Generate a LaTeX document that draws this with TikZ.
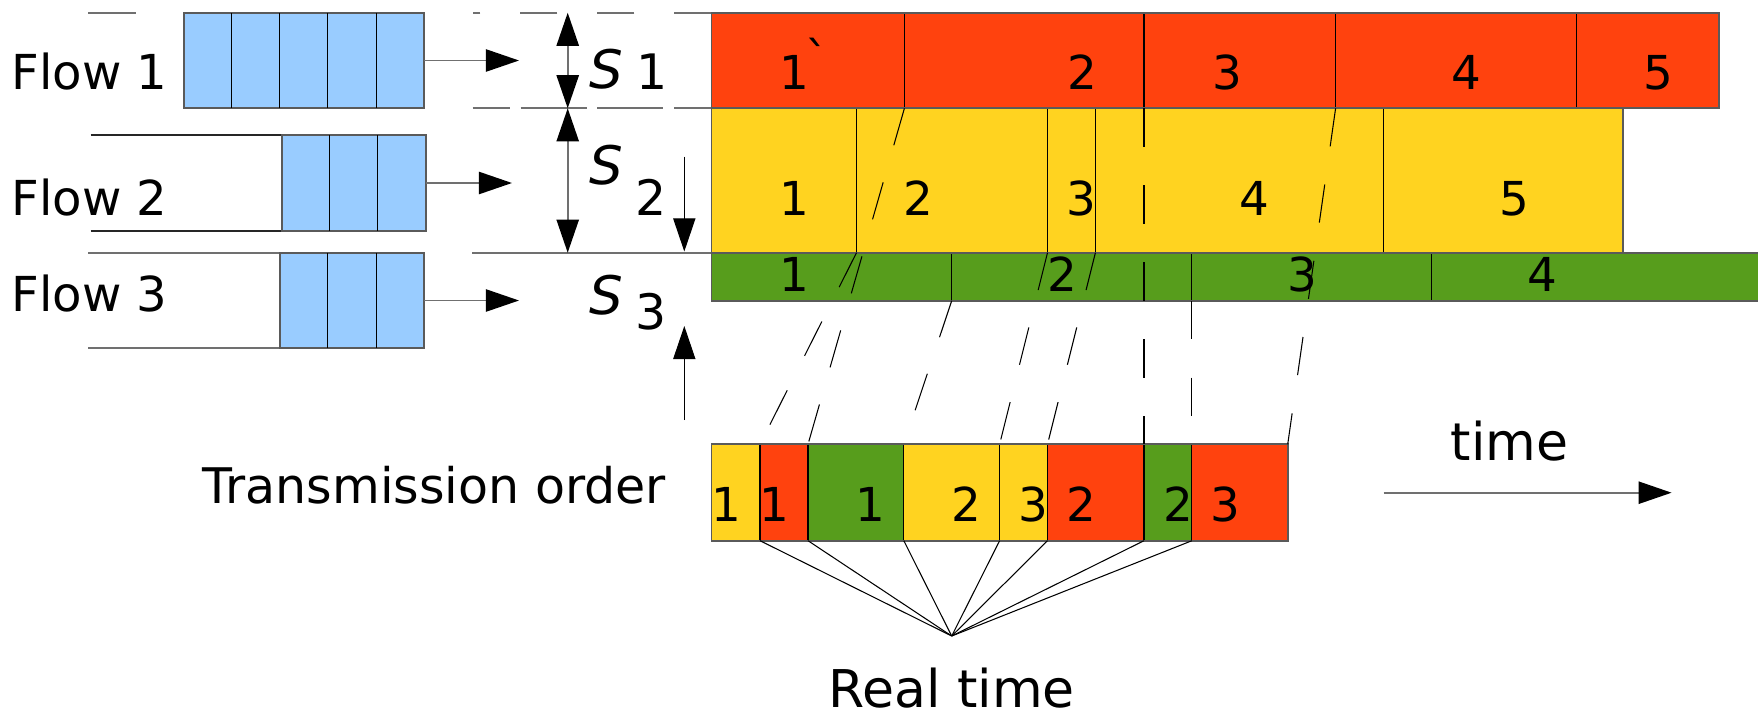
\documentclass[tikz,border=0pt]{standalone}
\usepackage{fontspec}
\setmainfont{DejaVu Sans}
\usetikzlibrary{arrows.meta}
\definecolor{pktred}{HTML}{FF420E}
\definecolor{pktyellow}{HTML}{FFD320}
\definecolor{pktgreen}{HTML}{579D1C}
\definecolor{qblue}{HTML}{99CCFF}
\definecolor{rim}{HTML}{5A5A5A}
\definecolor{guide}{HTML}{707070}
\begin{document}
\begin{tikzpicture}[x=0.01cm,y=-0.01cm,
  num/.style={anchor=base,inner sep=0pt,font=\fontsize{13.3}{16}\selectfont},
  word/.style={anchor=base west,inner sep=0pt,font=\fontsize{13.7}{16}\selectfont},
  big/.style={anchor=base,inner sep=0pt,font=\fontsize{14.8}{18}\selectfont},
  slab/.style={anchor=base,inner sep=0pt,font=\fontsize{15.1}{18}\selectfont\itshape},
  sidx/.style={anchor=base,inner sep=0pt,font=\fontsize{13.9}{17}\selectfont},
  queue/.style={draw=rim,fill=qblue,line width=0.5pt,inner sep=0pt,outer sep=0pt,minimum height=0.956cm},
  rimline/.style={draw=rim,line width=0.55pt},
  sep/.style={draw=black,line width=0.3pt},
  link/.style={draw=black,line width=0.3pt,dash pattern=on 10.95pt off 10.95pt},
  ray/.style={draw=black,line width=0.3pt},
  guideline/.style={draw=guide,line width=0.55pt},
  tip/.style={-{Triangle[length=9.4pt,width=6.3pt,color=black]}},
  bitip/.style={{Triangle[length=9.4pt,width=6.3pt,color=black]}-{Triangle[length=9.4pt,width=6.3pt,color=black]}},
]
\useasboundingbox (0,0) rectangle (1758,715);

% ---------- input queues ----------
\node[word] (f1) at (11,89) {Flow 1};
\node[word] (f2) at (11,215) {Flow 2};
\node[word] (f3) at (11,311.7) {Flow 3};

\draw[guideline] (88,12.7) -- (136,12.7);
\draw[line width=0.5pt,black!85] (90.5,135) -- (282,135) (90.5,231) -- (282,231);
\draw[guideline] (88,252.7) -- (280,252.7) (88,348.3) -- (280,348.3);

\node[queue,minimum width=2.401cm] (q1) at (303.75,60.5) {};
\node[queue,minimum width=1.44cm] (q2) at (354,183) {};
\node[queue,minimum width=1.44cm] (q3) at (352,300.5) {};
\foreach \x in {231.9,279.7,327.9,376.1} \draw[sep] (\x,12.7) -- (\x,108.3);
\foreach \x in {329.7,377.9} \draw[sep] (\x,135) -- (\x,231);
\foreach \x in {327.9,376.1} \draw[sep] (\x,252.7) -- (\x,348.3);

\coordinate (a1) at (519,60.5);
\coordinate (a2) at (512,183);
\coordinate (a3) at (519,300.5);
\draw[guideline,tip] (q1.east) -- (a1);
\draw[guideline,tip] (q2.east) -- (a2);
\draw[guideline,tip] (q3.east) -- (a3);

% ---------- slot boundaries ----------
\draw[guideline,dash pattern=on 10.8pt off 11.1pt] (711.5,12.7) -- (472.7,12.7);
\draw[guideline,dash pattern=on 10.61pt off 3.04pt on 18.78pt off 3.02pt on 18.78pt off 3.04pt on 12pt off 20pt] (472.7,108.3) -- (711.5,108.3);
\draw[guideline] (472,252.7) -- (711.5,252.7);

\coordinate (s1t) at (567.7,12.7);
\coordinate (s1b) at (567.7,108.3);
\coordinate (s2b) at (567.7,252.7);
\draw[guideline,bitip] (s1t) -- (s1b);
\draw[guideline,bitip] (s1b) -- (s2b);

\node[slab] (S1) at (606,88) {S};
\node[sidx] (S1i) at (652,89.5) {1};
\node[slab] (S2) at (606,184.5) {S};
\node[sidx] (S2i) at (651,215) {2};
\node[slab] (S3) at (606,314) {S};
\node[sidx] (S3i) at (651,329.5) {3};

\coordinate (dn0) at (684.3,156.7);
\coordinate (dn1) at (684.3,251.5);
\coordinate (up0) at (684.3,420);
\coordinate (up1) at (684.3,326);
\draw[black,line width=0.3pt,tip] (dn0) -- (dn1);
\draw[black,line width=0.3pt,tip] (up0) -- (up1);

% ---------- flow 1 (red) ----------
\fill[pktred] (711.5,12.7) rectangle (1718.8,108.3);
\foreach \x in {904.4,1144,1335.6,1576.4} \draw[sep] (\x,12.7) -- (\x,108.3);
\draw[rimline] (711.5,12.7) rectangle (1718.8,108.3);

% ---------- flow 2 (yellow) ----------
\fill[pktyellow] (711.5,108.3) rectangle (1623,252.7);
\foreach \x in {856.5,1047.5,1095.4,1383.5} \draw[sep] (\x,108.3) -- (\x,252.7);
\draw[rimline] (711.5,108.3) rectangle (1623,252.7);

% ---------- flow 3 (green) ----------
\fill[pktgreen] (711.5,252.7) rectangle (1770,300.7);
\foreach \x in {951.7,1191.9,1431.4} \draw[sep] (\x,252.7) -- (\x,300.7);
\draw[rimline] (1770,252.7) -- (711.5,252.7) -- (711.5,300.7) -- (1770,300.7);

% red packet numbers
\node[num] (r1) at (794.5,89.3) {1\rlap{\kern-0.08em\raisebox{0.3em}{ˋ}}};
\node[num] (r2) at (1082,89.3) {2};
\node[num] (r3) at (1227,89.3) {3};
\node[num] (r4) at (1466,89.3) {4};
\node[num] (r5) at (1658,89.3) {5};
% yellow packet numbers
\node[num] (y1) at (794,215) {1};
\node[num] (y2) at (918.6,215) {2};
\node[num] (y3) at (1081.5,215) {3};
\node[num] (y4) at (1254,215) {4};
\node[num] (y5) at (1514,215) {5};
% green packet numbers
\node[num] (g1) at (794,291.7) {1};
\node[num] (g2) at (1062,291.7) {2};
\node[num] (g3) at (1302,291.7) {3};
\node[num] (g4) at (1542,291.7) {4};

% ---------- transmission order ----------
\fill[pktyellow] (711.5,444.3) rectangle (760,540.7);
\fill[pktred] (760,444.3) rectangle (808,540.7);
\fill[pktgreen] (808,444.3) rectangle (903.8,540.7);
\fill[pktyellow] (903.8,444.3) rectangle (1047.5,540.7);
\fill[pktred] (1047.5,444.3) rectangle (1144,540.7);
\fill[pktgreen] (1144,444.3) rectangle (1191.9,540.7);
\fill[pktred] (1191.9,444.3) rectangle (1287.7,540.7);
\foreach \x in {760,808,903.8,999.6,1047.5,1144,1191.9} \draw[sep] (\x,444.3) -- (\x,540.7);
\draw[rimline] (711.5,444.3) rectangle (1287.7,540.7);

\node[num] (t1) at (726.6,521.7) {1};
\node[num] (t2) at (774.5,521.7) {1};
\node[num] (t3) at (870,521.7) {1};
\node[num] (t4) at (966.5,521.7) {2};
\node[num] (t5) at (1033,521.7) {3};
\node[num] (t6) at (1081.5,521.7) {2};
\node[num] (t7) at (1178,521.7) {2};
\node[num] (t8) at (1225.6,521.7) {3};

\node[word,font=\fontsize{13.95}{16}\selectfont] (tord) at (202,503.3) {Transmission order};

% ---------- mapping of packet boundaries onto the order ----------
\coordinate (rb1) at (904.4,108.3);
\coordinate (rb2) at (1144,108.3);
\coordinate (rb3) at (1335.6,108.3);
\coordinate (yb1) at (856.5,252.7);
\coordinate (yb2) at (1047.5,252.7);
\coordinate (yb3) at (1095.4,252.7);
\coordinate (gb1) at (951.7,300.7);
\coordinate (gb2) at (1191.9,300.7);
\coordinate (ot1) at (760,444.3);
\coordinate (ot2) at (808,444.3);
\coordinate (ot3) at (903.8,444.3);
\coordinate (ot4) at (999.6,444.3);
\coordinate (ot5) at (1047.5,444.3);
\coordinate (ot6) at (1144,444.3);
\coordinate (ot7) at (1191.9,444.3);
\coordinate (ot8) at (1287.7,444.3);
\draw[link] (rb1) -- (ot2);
\draw[link] (yb1) -- (ot1);
\draw[link] (gb1) -- (ot3);
\draw[link] (yb2) -- (ot4);
\draw[link] (yb3) -- (ot5);
\draw[link] (rb2) -- (ot6);
\draw[link] (gb2) -- (ot7);
\draw[link] (rb3) -- (ot8);

% ---------- real time fan ----------
\coordinate (apex) at (951.7,636);
\foreach \x in {760,808,903.8,999.6,1047.5,1144,1191.9} \draw[ray] (\x,540.7) -- (apex);
\node[big] (rt) at (951.7,707) {Real time};

% ---------- time axis ----------
\coordinate (tx0) at (1383.5,492.7);
\coordinate (tx1) at (1671.6,492.7);
\draw[guideline,line width=0.6pt,tip] (tx0) -- (tx1);
\node[big] (tm) at (1509.6,460) {time};
\end{tikzpicture}
\end{document}
